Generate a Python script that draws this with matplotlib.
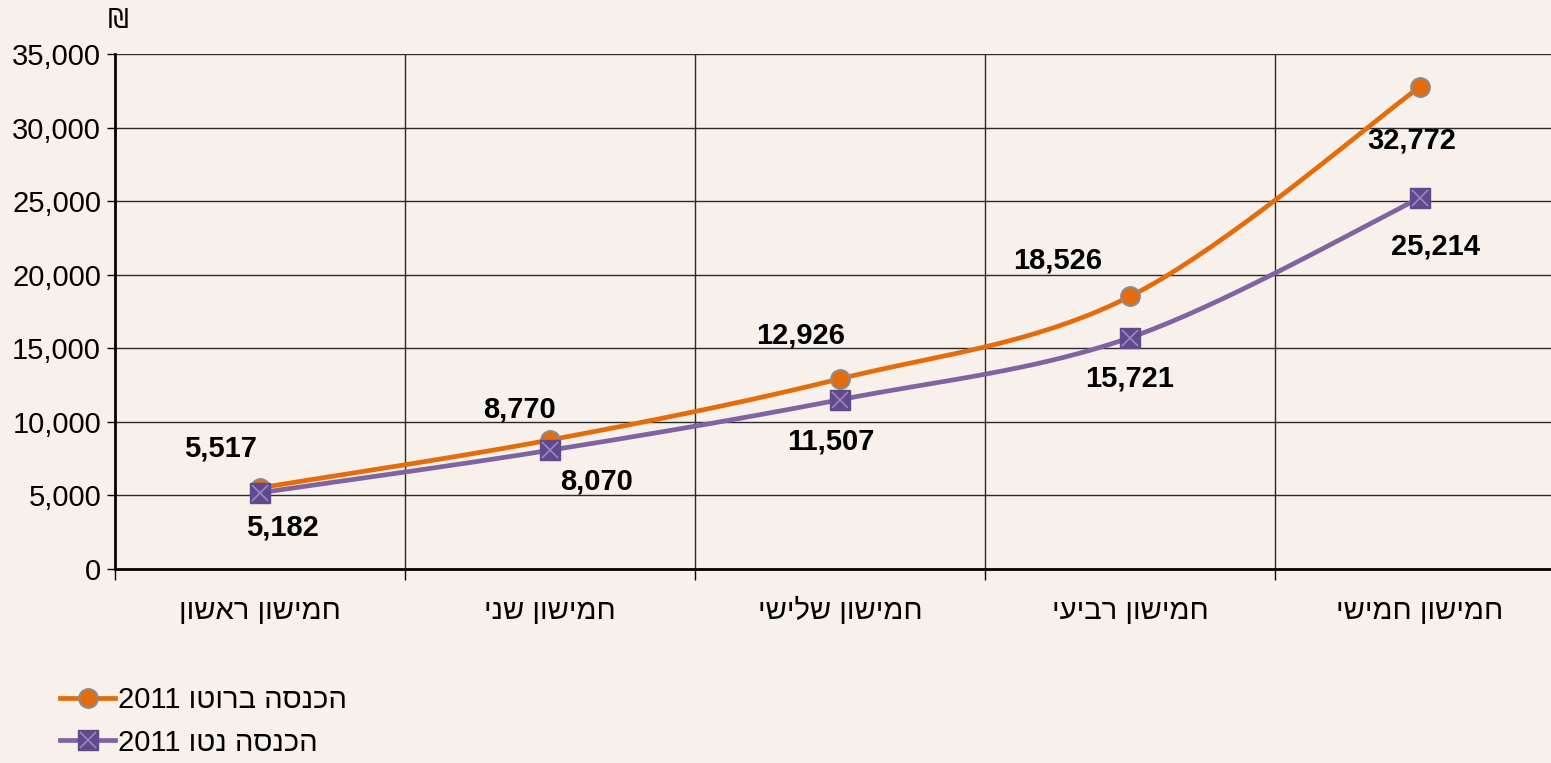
import matplotlib
matplotlib.use("Agg")
import matplotlib.pyplot as plt
from matplotlib.lines import Line2D
from matplotlib.legend_handler import HandlerTuple
import numpy as np

# data
categories = ["חמישון ראשון", "חמישון שני", "חמישון שלישי", "חמישון רביעי", "חמישון חמישי"]
gross_2011 = [5517, 8770, 12926, 18526, 32772]
net_2011 = [5182, 8070, 11507, 15721, 25214]
gross_name = "הכנסה ברוטו 2011"
net_name = "הכנסה נטו 2011"
y_ticks = [0, 5000, 10000, 15000, 20000, 25000, 30000, 35000]

# label offsets in pixels (dx, dy)
gross_offsets = [(-40, 39), (-30, 30), (-39, 43), (-72, 36), (-8, -54)]
net_offsets = [(22, -35), (47, -31), (-9, -42), (0, -41), (15, -49)]

BG = "#f8f0ea"
ORANGE = "#e46c0a"
PURPLE = "#8064a2"
PURPLE_DARK = "#5f4b8b"
FONT = ["Liberation Sans", "DejaVu Sans"]
FS = 21

plt.rcParams["font.family"] = FONT


def visual(s):
    # matplotlib has no bidi support: flip hebrew runs, keep digits as they are
    words = s.split(" ")
    heb = [w for w in words if not w.isdigit()]
    num = [w for w in words if w.isdigit()]
    out = " ".join(heb)[::-1]
    if num:
        out = " ".join(num) + " " + out
    return out


def smooth(xs, ys, n=40):
    # excel-style smoothed line (catmull-rom through the points)
    p = np.column_stack([xs, ys]).astype(float)
    p = np.vstack([p[0], p, p[-1]])
    out = []
    for i in range(1, len(p) - 2):
        p0, p1, p2, p3 = p[i - 1], p[i], p[i + 1], p[i + 2]
        c1 = p1 + (p2 - p0) / 6
        c2 = p2 - (p3 - p1) / 6
        t = np.linspace(0, 1, n)[:, None]
        seg = (1 - t) ** 3 * p1 + 3 * (1 - t) ** 2 * t * c1 + 3 * (1 - t) * t ** 2 * c2 + t ** 3 * p2
        out.append(seg if i == 1 else seg[1:])
    out = np.vstack(out)
    return out[:, 0], out[:, 1]


fig = plt.figure(figsize=(15.51, 7.63), dpi=100, facecolor=BG)
ax = fig.add_axes([115 / 1551, (763 - 569) / 763, 1450 / 1551, 515 / 763])
ax.set_facecolor(BG)

x = np.arange(len(categories))
ax.set_xlim(-0.5, len(categories) - 0.5)
ax.set_ylim(0, 35000)

# grid
for yv in y_ticks[1:]:
    ax.axhline(yv, color="#2a2a2a", lw=1.0, zorder=1)
for xv in np.arange(0.5, len(categories) - 0.5):
    ax.axvline(xv, color="#2a2a2a", lw=1.0, zorder=1)

for s in ["top", "right"]:
    ax.spines[s].set_visible(False)
for s in ["left", "bottom"]:
    ax.spines[s].set_linewidth(2.0)

ax.set_yticks(y_ticks)
ax.set_yticklabels([f"{v:,}" for v in y_ticks], fontsize=FS)
ax.tick_params(axis="y", length=6, width=1, pad=4)
ax.set_xticks(np.arange(-0.5, len(categories)))
ax.set_xticklabels([])
ax.tick_params(axis="x", which="major", length=8, width=1)
ax.set_xticks(x, minor=True)
ax.set_xticklabels([visual(c) for c in categories], minor=True, fontsize=FS)
ax.tick_params(axis="x", which="minor", length=0, pad=20)

# lines
gx, gy = smooth(x, gross_2011)
nx, ny = smooth(x, net_2011)
ax.plot(gx, gy, color=ORANGE, lw=3.4, zorder=3, solid_capstyle="round")
ax.plot(nx, ny, color=PURPLE, lw=3.4, zorder=3, solid_capstyle="round")
ax.plot(x, gross_2011, "o", ms=13.5, mfc=ORANGE, mec="#8c8c8c", mew=1.5, zorder=4)
ax.plot(x, net_2011, "s", ms=14, mfc=PURPLE_DARK, mec=PURPLE_DARK, zorder=5)
ax.plot(x, net_2011, "x", ms=11, mec="#9c85c2", mew=1.2, zorder=6)

for xi, v, (dx, dy) in zip(x, gross_2011, gross_offsets):
    ax.annotate(f"{v:,}", (xi, v), xytext=(dx * 0.72, dy * 0.72), textcoords="offset points",
                ha="center", va="center", fontsize=FS, fontweight="bold", zorder=7)
for xi, v, (dx, dy) in zip(x, net_2011, net_offsets):
    ax.annotate(f"{v:,}", (xi, v), xytext=(dx * 0.72, dy * 0.72), textcoords="offset points",
                ha="center", va="center", fontsize=FS, fontweight="bold", zorder=7)

fig.text(118 / 1551, 1 - 21 / 763, "₪", fontsize=19, ha="center", va="center",
         family=["DejaVu Sans"])

# legend
h_gross = Line2D([], [], color=ORANGE, lw=3.4, marker="o", ms=13.5, mfc=ORANGE, mec="#8c8c8c", mew=1.5)
h_net = (Line2D([], [], color=PURPLE, lw=3.4, marker="s", ms=14, mfc=PURPLE_DARK, mec=PURPLE_DARK),
         Line2D([], [], ls="none", marker="x", ms=11, mec="#9c85c2", mew=1.2))
fig.legend([h_gross, h_net], [visual(gross_name), visual(net_name)],
           handler_map={tuple: HandlerTuple(ndivide=1, pad=0)},
           loc="upper left", bbox_to_anchor=(60 / 1551, 1 - 686 / 763),
           frameon=False, fontsize=FS, handlelength=1.9, handletextpad=0.1,
           labelspacing=0.5, borderaxespad=0, borderpad=0)

fig.savefig("out.png", dpi=100, facecolor=BG)
